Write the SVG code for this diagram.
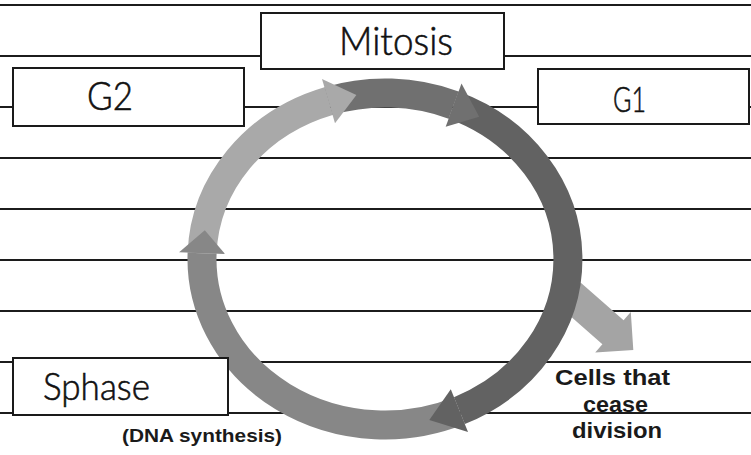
<svg xmlns="http://www.w3.org/2000/svg" width="751" height="455" viewBox="0 0 751 455">
  <style>
    .rule { stroke: #1c1c1c; stroke-width: 1.8; }
    .box { fill: #ffffff; stroke: #1a1a1a; stroke-width: 2; }
    .hand { font-family: Lato, "Open Sans", sans-serif; font-weight: 300; fill: #111; stroke: #111; stroke-width: 0.6; }
    .print { font-family: "Liberation Sans", Arial, sans-serif; font-weight: bold; fill: #1a1a1a; text-anchor: middle; }
    .seg { fill: none; stroke-width: 29; stroke-linecap: butt; }
  </style>
  <rect width="751" height="455" fill="#ffffff"/>

  <g id="rules">
    <line class="rule" x1="0" y1="5" x2="751" y2="5"/>
    <line class="rule" x1="0" y1="56" x2="751" y2="56"/>
    <line class="rule" x1="0" y1="107" x2="751" y2="107"/>
    <line class="rule" x1="0" y1="158" x2="751" y2="158"/>
    <line class="rule" x1="0" y1="209" x2="751" y2="209"/>
    <line class="rule" x1="0" y1="260" x2="751" y2="260"/>
    <line class="rule" x1="0" y1="311" x2="751" y2="311"/>
    <line class="rule" x1="0" y1="362" x2="751" y2="362"/>
    <line class="rule" x1="0" y1="413" x2="751" y2="413"/>
  </g>

  <g id="connectors">
    <!-- branch arrow to cells that cease division -->
    <polygon fill="#a4a4a4" points="580.8,282.7 623.6,320.3 630.8,312.1 633.3,350.1 595.2,352.6 602.4,344.3 559.7,306.7"/>
    <!-- ring bodies -->
    <path class="seg" stroke="#a9a9a9" d="M202.1,253.2 A183,166 0 0 1 328.5,101.1"/>
    <path class="seg" stroke="#707070" d="M328.5,101.1 A183,166 0 0 1 453.6,105.1"/>
    <path class="seg" stroke="#626262" d="M453.6,105.1 A183,166 0 0 1 459.4,410.6"/>
    <path class="seg" stroke="#878787" d="M459.4,410.6 A183,166 0 0 1 202.1,253.2"/>
    <!-- arrowheads -->
    <polygon fill="#626262" points="468.0,431.9 429.3,420.1 450.8,389.3"/>
    <polygon fill="#878787" points="179.1,252.3 204.8,230.2 225.1,254.1"/>
    <polygon fill="#a9a9a9" points="322.0,79.0 356.4,95.0 335.0,123.2"/>
    <polygon fill="#707070" points="461.5,83.5 479.2,116.7 445.7,126.7"/>
  </g>

  <g id="mitosis">
    <rect class="box" x="261" y="13" width="243" height="56"/>
    <text class="hand" x="339" y="55" font-size="39" textLength="114" lengthAdjust="spacingAndGlyphs">Mitosis</text>
  </g>

  <g id="g2">
    <rect class="box" x="13" y="68" width="231" height="58"/>
    <text class="hand" x="87" y="110" font-size="40" textLength="46" lengthAdjust="spacingAndGlyphs">G2</text>
  </g>

  <g id="g1">
    <rect class="box" x="538" y="69" width="211" height="55"/>
    <text class="hand" x="613" y="112" font-size="36" textLength="33" lengthAdjust="spacingAndGlyphs">G1</text>
  </g>

  <g id="sphase">
    <rect class="box" x="13" y="358" width="215" height="57"/>
    <text class="hand" x="43" y="400" font-size="38" textLength="107" lengthAdjust="spacingAndGlyphs">Sphase</text>
    <text class="print" x="202" y="442" font-size="18" textLength="160" lengthAdjust="spacingAndGlyphs">(DNA synthesis)</text>
  </g>

  <g id="cease">
    <text class="print" x="612.5" y="385" font-size="22" textLength="115" lengthAdjust="spacingAndGlyphs">Cells that</text>
    <text class="print" x="615.5" y="412" font-size="22" textLength="65" lengthAdjust="spacingAndGlyphs">cease</text>
    <text class="print" x="617" y="438" font-size="22" textLength="90" lengthAdjust="spacingAndGlyphs">division</text>
  </g>
</svg>
